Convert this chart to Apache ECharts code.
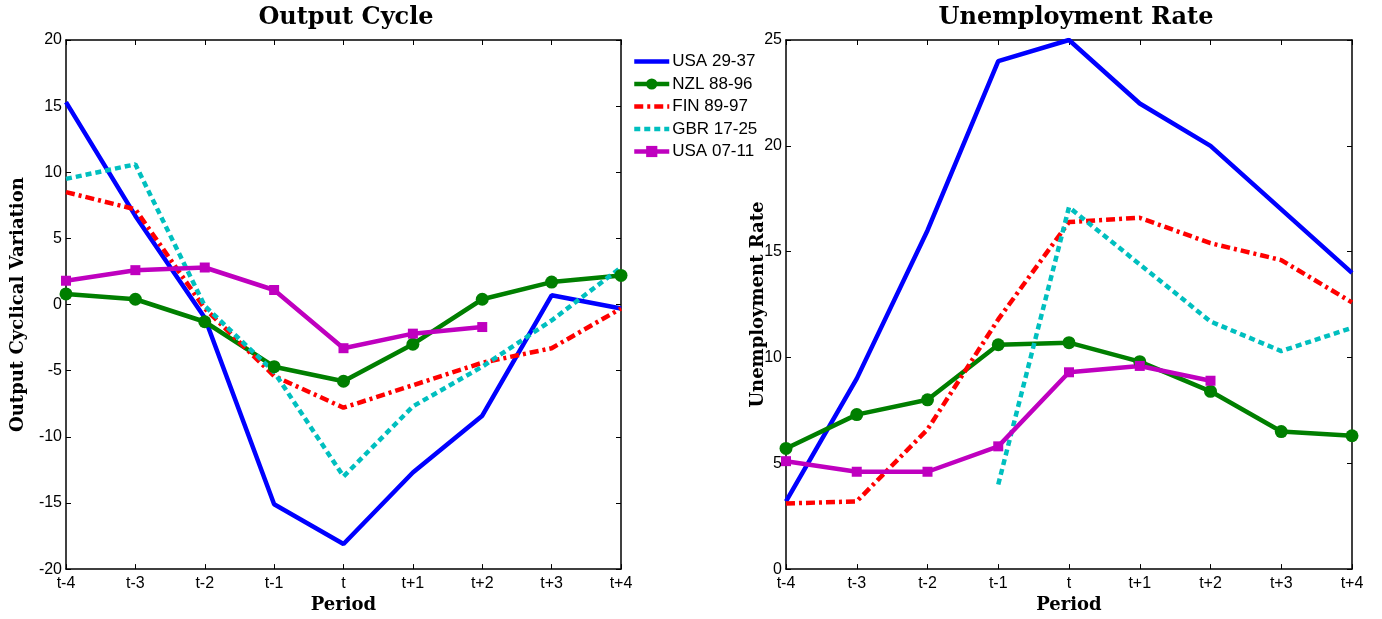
<!DOCTYPE html>
<html>
<head>
<meta charset="utf-8">
<script src="https://cdn.jsdelivr.net/npm/echarts@6/dist/echarts.min.js"></script>
<style>
  html, body { margin: 0; padding: 0; background: #fff; }
  #main { width: 1382px; height: 619px; }
</style>
</head>
<body>
<div id="main"></div>
<script>
// periods around the crisis
const periods = ['t-4', 't-3', 't-2', 't-1', 't', 't+1', 't+2', 't+3', 't+4']

// output cycle (left panel)
const outUSA2937 = [15.3, 6.7, -1.0, -15.1, -18.1, -12.7, -8.4, 0.7, -0.3]
const outNZL8896 = [0.8, 0.4, -1.3, -4.7, -5.8, -3.0, 0.4, 1.7, 2.2]
const outFIN8997 = [8.5, 7.2, -0.3, -5.4, -7.8, -6.1, -4.4, -3.3, -0.3]
const outGBR1725 = [9.5, 10.6, -0.1, -5.1, -13.0, -7.7, -4.7, -1.2, 2.8]
const outUSA0711 = [1.8, 2.6, 2.8, 1.1, -3.3, -2.2, -1.7, '-', '-']

// unemployment rate (right panel)
const unUSA2937 = [3.2, 9.0, 16.0, 24.0, 25.0, 22.0, 20.0, 17.0, 14.0]
const unNZL8896 = [5.7, 7.3, 8.0, 10.6, 10.7, 9.8, 8.4, 6.5, 6.3]
const unFIN8997 = [3.1, 3.2, 6.6, 11.8, 16.4, 16.6, 15.4, 14.6, 12.6]
const unGBR1725 = ['-', '-', '-', 4.0, 17.1, 14.4, 11.7, 10.3, 11.4]
const unUSA0711 = [5.1, 4.6, 4.6, 5.8, 9.3, 9.6, 8.9, '-', '-']

const names = ['USA 29-37', 'NZL 88-96', 'FIN 89-97', 'GBR 17-25', 'USA 07-11']

const styles = {
  'USA 29-37': { color: '#0000ff', type: 'solid', symbol: 'none' },
  'NZL 88-96': { color: '#007f00', type: 'solid', symbol: 'circle', size: 13 },
  'FIN 89-97': { color: '#ff0000', type: [9, 4, 3, 4], symbol: 'none' },
  'GBR 17-25': { color: '#00bfbf', type: [6, 4], symbol: 'none' },
  'USA 07-11': { color: '#bf00bf', type: 'solid', symbol: 'rect', size: 10 }
}

function mk (name, data, idx) {
  let s = styles[name]
  return {
    name: name,
    type: 'line',
    xAxisIndex: idx,
    yAxisIndex: idx,
    data: data,
    symbol: s.symbol,
    symbolSize: s.size || 0,
    showSymbol: s.symbol !== 'none',
    connectNulls: false,
    animation: false,
    itemStyle: { color: s.color },
    lineStyle: { color: s.color, width: 4.5, type: s.type }
  }
}

const tickFont = { fontFamily: 'Liberation Sans', fontSize: 16, color: '#000' }
const nameFont = { fontFamily: 'DejaVu Serif', fontWeight: 'bold', fontSize: 18, color: '#000' }
const axisLine = { show: true, onZero: false, lineStyle: { color: '#000', width: 1.5 } }

function xAx (grid, withLabels) {
  return {
    type: 'category',
    gridIndex: grid,
    data: periods,
    boundaryGap: false,
    position: withLabels ? 'bottom' : 'top',
    axisLine: axisLine,
    axisTick: { show: true, inside: true, length: 5, lineStyle: { color: '#000' } },
    axisLabel: withLabels ? Object.assign({ margin: 6 }, tickFont) : { show: false },
    splitLine: { show: false },
    name: withLabels ? 'Period' : '',
    nameLocation: 'middle',
    nameGap: 26,
    nameTextStyle: nameFont
  }
}

function yAx (grid, min, max, withLabels, name, gap) {
  return {
    type: 'value',
    gridIndex: grid,
    min: min,
    max: max,
    interval: 5,
    position: withLabels ? 'left' : 'right',
    axisLine: axisLine,
    axisTick: { show: true, inside: true, length: 5, lineStyle: { color: '#000' } },
    axisLabel: withLabels ? Object.assign({ margin: 4 }, tickFont) : { show: false },
    splitLine: { show: false },
    name: withLabels ? name : '',
    nameLocation: 'middle',
    nameGap: gap || 38,
    nameMoveOverlap: false,
    nameTextStyle: nameFont
  }
}

let chart = echarts.init(document.getElementById('main'))
let option = {
  backgroundColor: '#fff',
  animation: false,
  title: [
    { text: 'Output Cycle', left: 341, top: 1, textAlign: 'center',
      textStyle: { fontFamily: 'DejaVu Serif', fontWeight: 'bold', fontSize: 24, color: '#000' } },
    { text: 'Unemployment Rate', left: 1071, top: 1, textAlign: 'center',
      textStyle: { fontFamily: 'DejaVu Serif', fontWeight: 'bold', fontSize: 24, color: '#000' } }
  ],
  legend: {
    orient: 'vertical',
    left: 627,
    top: 48,
    itemWidth: 35,
    itemHeight: 14,
    itemGap: 5.5,
    lineStyle: { width: 4.5 },
    data: names.map(n => styles[n].symbol === 'none'
      ? { name: n, itemStyle: { opacity: 0 } }
      : { name: n }),
    textStyle: { fontFamily: 'Liberation Sans', fontSize: 17, color: '#000', padding: [0, 0, 0, -2] }
  },
  grid: [
    { left: 66, right: 761, top: 40, bottom: 48 },
    { left: 786, right: 30, top: 40, bottom: 49 }
  ],
  xAxis: [xAx(0, true), xAx(0, false), xAx(1, true), xAx(1, false)],
  yAxis: [
    yAx(0, -20, 20, true, 'Output Cyclical Variation', 39),
    yAx(0, -20, 20, false, ''),
    yAx(1, 0, 25, true, 'Unemployment Rate', 19),
    yAx(1, 0, 25, false, '')
  ],
  series: [
    mk('USA 29-37', outUSA2937, 0),
    mk('NZL 88-96', outNZL8896, 0),
    mk('FIN 89-97', outFIN8997, 0),
    mk('GBR 17-25', outGBR1725, 0),
    mk('USA 07-11', outUSA0711, 0),
    mk('USA 29-37', unUSA2937, 2),
    mk('NZL 88-96', unNZL8896, 2),
    mk('FIN 89-97', unFIN8997, 2),
    mk('GBR 17-25', unGBR1725, 2),
    mk('USA 07-11', unUSA0711, 2)
  ]
}
chart.setOption(option)
</script>
</body>
</html>
